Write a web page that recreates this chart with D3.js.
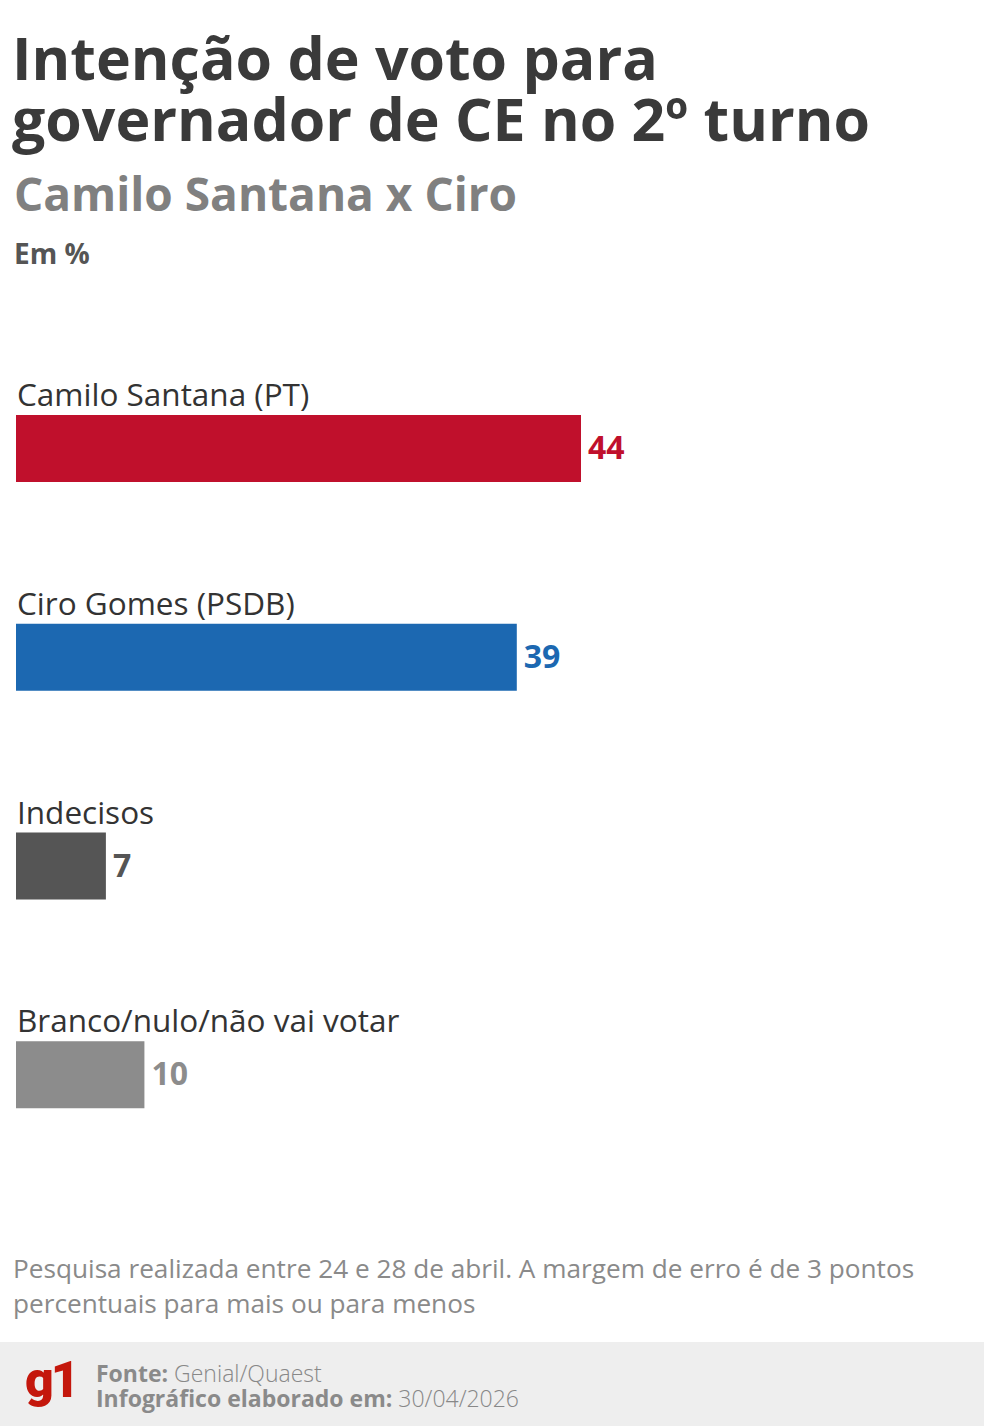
<!DOCTYPE html>
<html><head><meta charset="utf-8">
<script src="https://cdn.jsdelivr.net/npm/d3@7"></script>
<style>
html,body{margin:0;padding:0;background:#fff;}
svg{display:block;font-family:"Open Sans",sans-serif;}
</style></head>
<body>
<script>
const categories = ["Camilo Santana (PT)", "Ciro Gomes (PSDB)", "Indecisos", "Branco/nulo/não vai votar"];
const values = [44, 39, 7, 10];
const colors = ["#c0102c", "#1c68b1", "#555555", "#8c8c8c"];
const titleLines = ["Intenção de voto para", "governador de CE no 2º turno"];
const subtitle = "Camilo Santana x Ciro";
const unit = "Em %";
const noteLines = ["Pesquisa realizada entre 24 e 28 de abril. A margem de erro é de 3 pontos", "percentuais para mais ou para menos"];

const W = 984, H = 1426;
const svg = d3.select("body").append("svg").attr("width", W).attr("height", H);

svg.selectAll("text.title").data(titleLines).join("text")
  .attr("class","title").attr("x", 12).attr("y", (d,i)=>80+i*61)
  .attr("font-size", 59).attr("font-weight", 700).attr("fill", "#3a3a3a").text(d=>d);
svg.append("text").attr("x", 14).attr("y", 211).attr("font-size", 46).attr("font-weight", 700)
  .attr("fill", "#808080").text(subtitle);
svg.append("text").attr("x", 14).attr("y", 264).attr("font-size", 28).attr("font-weight", 700)
  .attr("fill", "#555").text(unit);

const x = d3.scaleLinear().domain([0, 44]).range([16, 581]);
const y = d3.scaleBand().domain(categories).range([310, 1145]).paddingInner(0).paddingOuter(0);

const g = svg.append("g");
const rows = g.selectAll("g.row").data(categories).join("g").attr("class","row")
  .attr("transform", d => `translate(0,${y(d)})`);
rows.append("text").attr("x", 17).attr("y", 96).attr("font-size", 31.5).attr("fill", "#333").text(d=>d);
rows.append("rect").attr("x", x(0)).attr("y", 105).attr("height", 67)
  .attr("width", (d,i)=>x(values[i]) - x(0)).attr("fill", (d,i)=>colors[i]);
rows.append("text").attr("x", (d,i)=>x(values[i]) + 7).attr("y", 149)
  .attr("font-size", 32).attr("font-weight", 700).attr("fill", (d,i)=>colors[i]).text((d,i)=>values[i]);

svg.selectAll("text.note").data(noteLines).join("text").attr("class","note")
  .attr("x", 13).attr("y", (d,i)=>1278+i*35).attr("font-size", 26.2).attr("fill", "#8a8a8a").text(d=>d);

svg.append("rect").attr("x", 0).attr("y", 1342).attr("width", W).attr("height", H-1342).attr("fill", "#eeeeee");
svg.append("text").attr("x", 25).attr("y", 1397).attr("font-size", 50).attr("font-weight", 900)
  .attr("font-family", "Roboto, sans-serif")
  .attr("fill", "#c4170c").attr("letter-spacing", -3).text("g1");
const f1 = svg.append("text").attr("x", 96).attr("y", 1382).attr("font-size", 23).attr("fill", "#888");
f1.append("tspan").attr("font-weight", 700).attr("fill","#8a8a8a").text("Fonte: ");
f1.append("tspan").attr("font-weight", 300).text("Genial/Quaest");
const f2 = svg.append("text").attr("x", 96).attr("y", 1407).attr("font-size", 23).attr("fill", "#888");
f2.append("tspan").attr("font-weight", 700).attr("fill","#8a8a8a").text("Infográfico elaborado em: ");
f2.append("tspan").attr("font-weight", 300).text("30/04/2026");
</script>
</body></html>
